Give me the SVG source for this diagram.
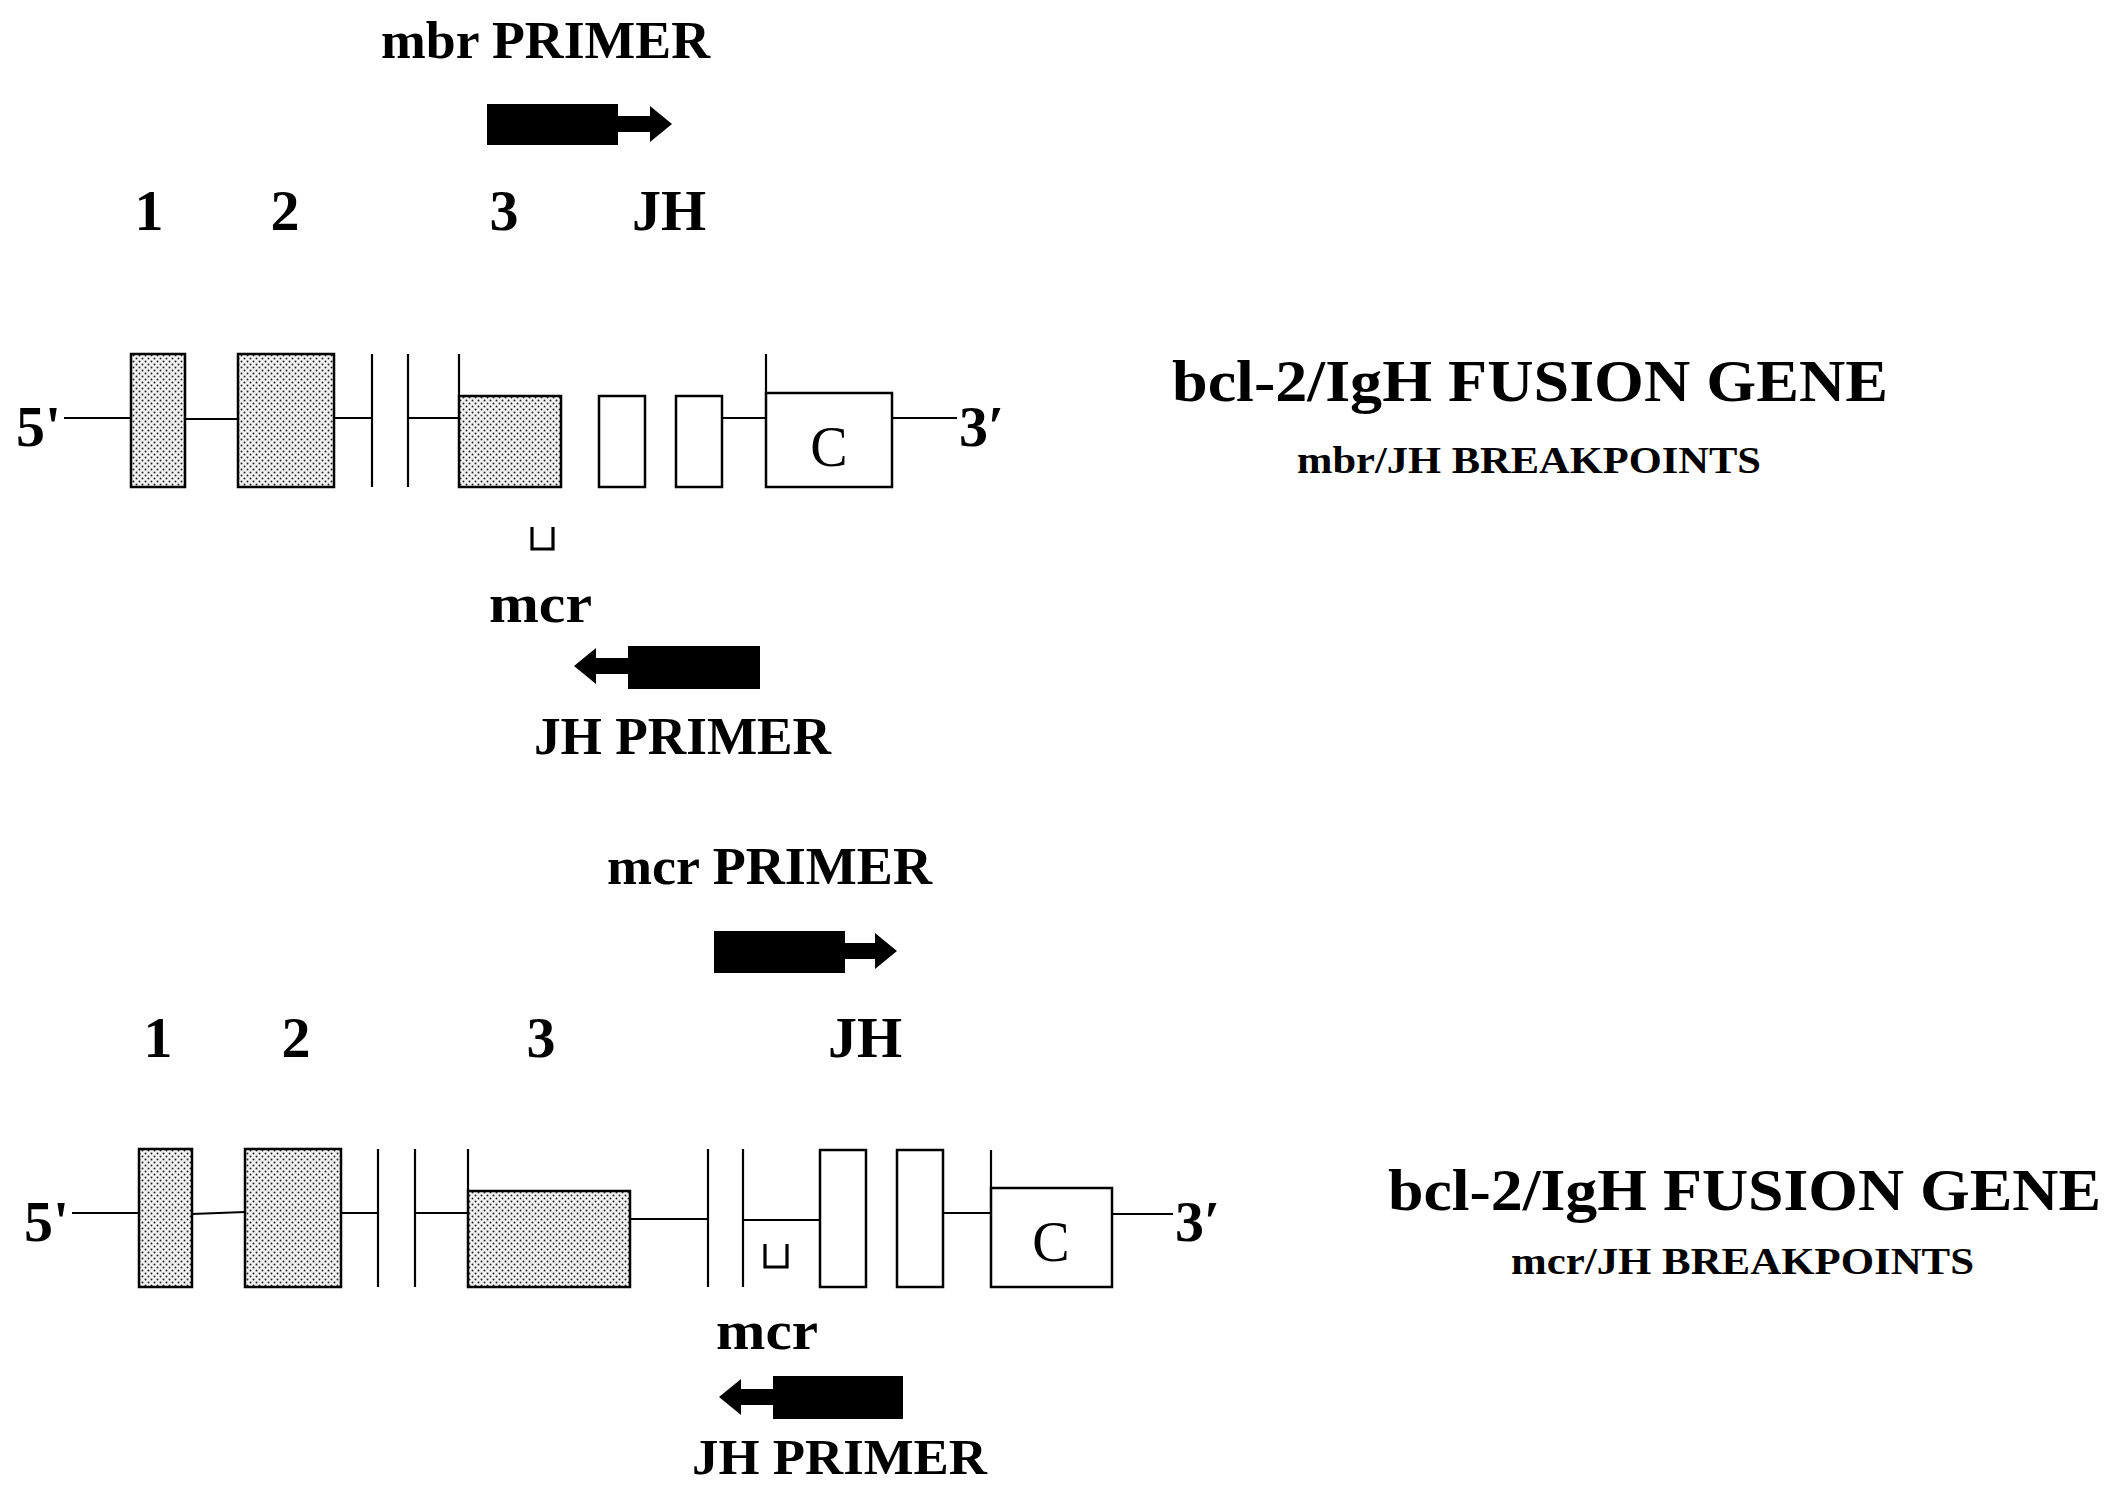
<svg xmlns="http://www.w3.org/2000/svg" width="2115" height="1486" viewBox="0 0 2115 1486">
<defs>
<pattern id="stip" width="6" height="6" patternUnits="userSpaceOnUse">
<rect width="6" height="6" fill="#f2f2f2"/>
<circle cx="1.5" cy="1.5" r="1" fill="#222"/>
<circle cx="4.5" cy="4.5" r="1" fill="#222"/>
</pattern>
</defs>
<style>
.t{font-family:"Liberation Serif","Times New Roman",serif;fill:#000}
.b{font-weight:bold}
.ex{fill:url(#stip);stroke:#000;stroke-width:2.5}
.wb{fill:#fff;stroke:#000;stroke-width:2.5}
.ln{stroke:#000;stroke-width:2.2;fill:none}
.mk{stroke:#000;stroke-width:3.2;fill:none}
.pr{fill:#000}
</style>
<rect width="2115" height="1486" fill="#fff"/>

<!-- ===== TOP: mbr/JH ===== -->
<g id="top-labels">
<text class="t b" x="381" y="58" font-size="52" textLength="329" lengthAdjust="spacingAndGlyphs">mbr PRIMER</text>
<text class="t b" x="149" y="230" font-size="58" text-anchor="middle">1</text>
<text class="t b" x="285" y="230" font-size="58" text-anchor="middle">2</text>
<text class="t b" x="504" y="230" font-size="58" text-anchor="middle">3</text>
<text class="t b" x="669" y="230" font-size="58" text-anchor="middle">JH</text>
<text class="t b" x="16" y="446" font-size="58">5'</text>
<text class="t b" x="959" y="446" font-size="58">3′</text>
<text class="t b" x="489" y="622" font-size="54" textLength="103" lengthAdjust="spacingAndGlyphs">mcr</text>
<text class="t b" x="534" y="754" font-size="52" textLength="297" lengthAdjust="spacingAndGlyphs">JH PRIMER</text>
</g>
<g id="top-title">
<text class="t b" x="1172" y="401" font-size="60" textLength="716" lengthAdjust="spacingAndGlyphs">bcl-2/IgH FUSION GENE</text>
<text class="t b" x="1297" y="473" font-size="37" textLength="464" lengthAdjust="spacingAndGlyphs">mbr/JH BREAKPOINTS</text>
</g>
<g id="top-mbr-primer">
<rect class="pr" x="487" y="104" width="131" height="41"/>
<path class="pr" d="M616 116 H650 V106 L672 124 L650 142 V132 H616 Z"/>
</g>
<g id="top-jh-primer">
<rect class="pr" x="628" y="646" width="132" height="43"/>
<path class="pr" d="M630 658 H596 V648 L574 666 L596 684 V674 H630 Z"/>
</g>
<g id="top-connectors">
<line class="ln" x1="64" y1="418" x2="131" y2="418"/>
<line class="ln" x1="185" y1="419" x2="238" y2="419"/>
<line class="ln" x1="334" y1="418" x2="372" y2="418"/>
<line class="ln" x1="372" y1="354" x2="372" y2="487"/>
<line class="ln" x1="408" y1="354" x2="408" y2="487"/>
<line class="ln" x1="408" y1="418" x2="459" y2="418"/>
<line class="ln" x1="459" y1="354" x2="459" y2="396"/>
<line class="ln" x1="722" y1="418" x2="766" y2="418"/>
<line class="ln" x1="766" y1="354" x2="766" y2="393"/>
<line class="ln" x1="892" y1="418" x2="957" y2="418"/>
</g>
<g id="top-exon1"><rect class="ex" x="131" y="354" width="54" height="133"/></g>
<g id="top-exon2"><rect class="ex" x="238" y="354" width="96" height="133"/></g>
<g id="top-exon3"><rect class="ex" x="459" y="396" width="102" height="91"/></g>
<g id="top-jh1"><rect class="wb" x="599" y="396" width="46" height="91"/></g>
<g id="top-jh2"><rect class="wb" x="676" y="396" width="46" height="91"/></g>
<g id="top-c">
<rect class="wb" x="766" y="393" width="126" height="94"/>
<text class="t" x="829" y="466" font-size="56" text-anchor="middle">C</text>
</g>
<g id="top-mcr-mark"><path class="mk" d="M532 527 V549 H553 V527"/></g>

<!-- ===== BOTTOM: mcr/JH ===== -->
<g id="bot-labels">
<text class="t b" x="607" y="884" font-size="52" textLength="325" lengthAdjust="spacingAndGlyphs">mcr PRIMER</text>
<text class="t b" x="158" y="1057" font-size="58" text-anchor="middle">1</text>
<text class="t b" x="296" y="1057" font-size="58" text-anchor="middle">2</text>
<text class="t b" x="541" y="1057" font-size="58" text-anchor="middle">3</text>
<text class="t b" x="865" y="1057" font-size="58" text-anchor="middle">JH</text>
<text class="t b" x="24" y="1241" font-size="58">5'</text>
<text class="t b" x="1175" y="1241" font-size="58">3′</text>
<text class="t b" x="716" y="1349" font-size="54" textLength="102" lengthAdjust="spacingAndGlyphs">mcr</text>
<text class="t b" x="692" y="1474" font-size="50" textLength="295" lengthAdjust="spacingAndGlyphs">JH PRIMER</text>
</g>
<g id="bot-title">
<text class="t b" x="1388" y="1210" font-size="60" textLength="713" lengthAdjust="spacingAndGlyphs">bcl-2/IgH FUSION GENE</text>
<text class="t b" x="1511" y="1274" font-size="37" textLength="463" lengthAdjust="spacingAndGlyphs">mcr/JH BREAKPOINTS</text>
</g>
<g id="bot-mcr-primer">
<rect class="pr" x="714" y="931" width="131" height="42"/>
<path class="pr" d="M843 943 H875 V933 L897 951 L875 969 V959 H843 Z"/>
</g>
<g id="bot-jh-primer">
<rect class="pr" x="773" y="1376" width="130" height="43"/>
<path class="pr" d="M775 1389 H741 V1379 L719 1397 L741 1415 V1405 H775 Z"/>
</g>
<g id="bot-connectors">
<line class="ln" x1="72" y1="1213" x2="139" y2="1213"/>
<line class="ln" x1="192" y1="1214" x2="245" y2="1212"/>
<line class="ln" x1="341" y1="1213" x2="378" y2="1213"/>
<line class="ln" x1="378" y1="1149" x2="378" y2="1287"/>
<line class="ln" x1="415" y1="1149" x2="415" y2="1287"/>
<line class="ln" x1="415" y1="1213" x2="468" y2="1213"/>
<line class="ln" x1="468" y1="1149" x2="468" y2="1191"/>
<line class="ln" x1="630" y1="1219" x2="708" y2="1219"/>
<line class="ln" x1="708" y1="1149" x2="708" y2="1287"/>
<line class="ln" x1="743" y1="1149" x2="743" y2="1287"/>
<line class="ln" x1="743" y1="1220" x2="820" y2="1220"/>
<line class="ln" x1="943" y1="1213" x2="991" y2="1213"/>
<line class="ln" x1="991" y1="1150" x2="991" y2="1188"/>
<line class="ln" x1="1112" y1="1214" x2="1173" y2="1214"/>
</g>
<g id="bot-exon1"><rect class="ex" x="139" y="1149" width="53" height="138"/></g>
<g id="bot-exon2"><rect class="ex" x="245" y="1149" width="96" height="138"/></g>
<g id="bot-exon3"><rect class="ex" x="468" y="1191" width="162" height="96"/></g>
<g id="bot-jh1"><rect class="wb" x="820" y="1150" width="46" height="137"/></g>
<g id="bot-jh2"><rect class="wb" x="897" y="1150" width="46" height="137"/></g>
<g id="bot-c">
<rect class="wb" x="991" y="1188" width="121" height="99"/>
<text class="t" x="1051" y="1261" font-size="56" text-anchor="middle">C</text>
</g>
<g id="bot-mcr-mark"><path class="mk" d="M765 1244 V1267 H787 V1244"/></g>
</svg>
